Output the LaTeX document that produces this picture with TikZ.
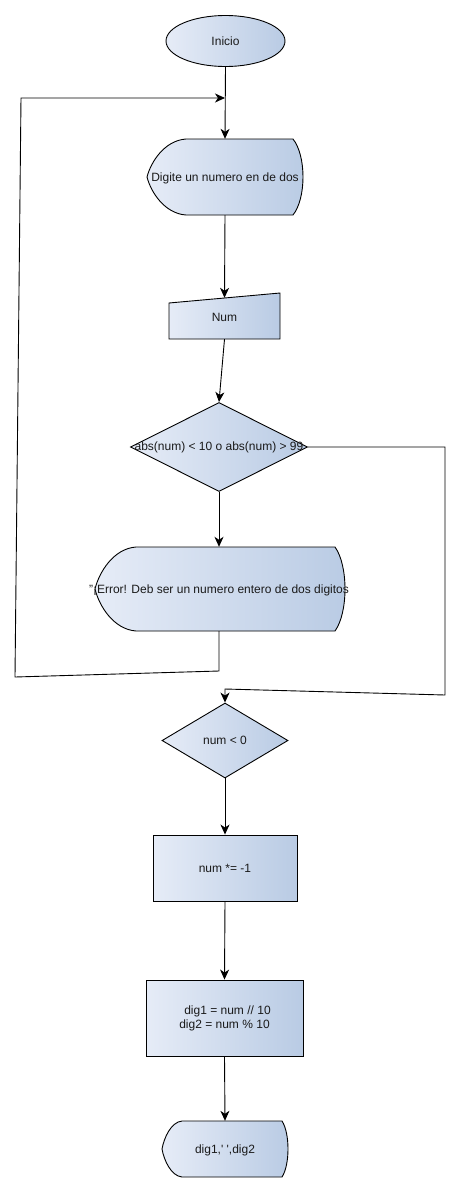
\documentclass[tikz,border=0pt]{standalone}
\usepackage{fontspec}
\setmainfont{Liberation Sans}
\usetikzlibrary{shapes.geometric,arrows.meta}
\definecolor{gradL}{HTML}{E6ECF7}
\definecolor{gradR}{HTML}{B9CBE4}
\definecolor{txt}{HTML}{1A1A1A}
\newcommand\dispshape[6]{% #1 left point x, #2 top-left x, #3 top-right x, #4 bulge x, #5 top y, #6 bottom y
  \path[shapeline,left color=gradL,right color=gradR]
    (#2,#5) -- (#3,#5)
    .. controls ({#3+(#4-#3)*4/3},{#5+(#6-#5)*0.22}) and ({#3+(#4-#3)*4/3},{#6-(#6-#5)*0.22}) .. (#3,#6)
    -- (#2,#6)
    .. controls ({#1+(#2-#1)*0.45},{#6-(#6-#5)*0.02}) and ({#1+(#2-#1)*0.1},{#6-(#6-#5)*0.3}) .. (#1,{(#5+#6)/2})
    .. controls ({#1+(#2-#1)*0.1},{#5+(#6-#5)*0.3}) and ({#1+(#2-#1)*0.45},{#5+(#6-#5)*0.02}) .. (#2,#5)
    -- cycle;}
\begin{document}
\begin{tikzpicture}[x=1pt,y=-1pt,
  shapeline/.style={draw=black,line width=0.9pt},
  grad/.style={left color=gradL,right color=gradR},
  lbl/.style={font=\fontsize{12}{14}\selectfont,text=txt,inner sep=0pt},
  holder/.style={draw=none,inner sep=0pt,rectangle},
  conn/.style={draw=black,line width=0.9pt},
  arr/.style={conn,-{Stealth[length=10pt,width=9pt,inset=3pt]}}]
\useasboundingbox (0,0) rectangle (461,1192);
\fill[white] (0,0) rectangle (461,1192);

% Inicio
\node[ellipse,shapeline,grad,minimum width=119pt,minimum height=51pt,inner sep=0pt] (inicio) at (225.5,41) {};
\node[lbl] (tinicio) at (inicio.center) {Inicio};

% Display 1
\node[holder,minimum width=156pt,minimum height=76pt] (d1) at (225,177) {};
\dispshape{147}{186}{293}{303}{139}{215}
\node[lbl] (td1) at (225,178) {Digite un numero en de dos};

% Manual input Num
\node[holder,minimum width=111pt,minimum height=46pt] (num) at (224.5,316) {};
\path[shapeline,grad] (169,303) -- (280,293) -- (280,339) -- (169,339) -- cycle;
\node[lbl] (tnum) at (224.5,317) {Num};

% Decision 1
\node[diamond,shapeline,grad,minimum width=177pt,minimum height=89pt,inner sep=0pt] (q1) at (219,447) {};
\node[lbl] (tq1) at (219,447) {abs(num) < 10 o abs(num) > 99};

% Display 2 (error)
\node[holder,minimum width=250pt,minimum height=84pt] (d2) at (219,589) {};
\dispshape{95}{136}{335}{345}{547}{631}
\node[lbl] (td2) at (219,590) {"¡Error! Deb ser un numero entero de dos digitos};

% Decision 2
\node[diamond,shapeline,grad,minimum width=126pt,minimum height=75pt,inner sep=0pt] (q2) at (225,740.5) {};
\node[lbl] (tq2) at (q2.center) {num < 0};

% Process 1
\node[rectangle,shapeline,grad,minimum width=144pt,minimum height=66pt,inner sep=0pt] (p1) at (225,868) {};
\node[lbl] (tp1) at (p1.center) {num *= -1};

% Process 2
\node[rectangle,shapeline,grad,minimum width=157pt,minimum height=76pt,inner sep=0pt] (p2) at (224.5,1018) {};
\node[lbl,align=center] (tp2) at (p2.center) {\hspace*{6pt}dig1 = num // 10\\dig2 = num \% 10};

% Display 3
\node[holder,minimum width=126pt,minimum height=56pt] (d3) at (225,1149) {};
\dispshape{162}{182}{282}{288}{1121}{1177}
\node[lbl] (td3) at (225,1150) {dig1,\textquotesingle\ \textquotesingle,dig2};

% junction / bend coordinates
\coordinate (j1) at (225,98);
\coordinate (lb1) at (219,671);
\coordinate (lb2) at (15,677);
\coordinate (lb3) at (21,98);
\coordinate (rb1) at (445,447);
\coordinate (rb2) at (445,695);
\coordinate (rb3) at (225,689);

% connectors
\draw[arr] (inicio.south) -- (d1.north);
\draw[arr] (d1.south) -- ([yshift=-5pt]num.north);
\draw[arr] (num.south) -- (q1.north);
\draw[arr] (q1.south) -- (d2.north);
\draw[arr] (d2.south) -- (lb1) -- (lb2) -- (lb3) -- (j1);
\draw[arr] (q1.east) -- (rb1) -- (rb2) -- (rb3) -- (q2.north);
\draw[arr] (q2.south) -- (p1.north);
\draw[arr] (p1.south) -- (p2.north);
\draw[arr] (p2.south) -- (d3.north);
\end{tikzpicture}
\end{document}
